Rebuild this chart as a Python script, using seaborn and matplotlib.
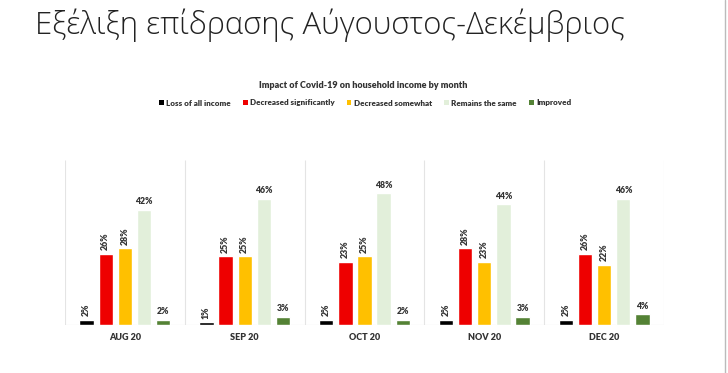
import pandas as pd
import matplotlib.pyplot as plt
import seaborn as sns
from matplotlib.patches import Patch
from matplotlib.lines import Line2D

# data
months = ['AUG 20', 'SEP 20', 'OCT 20', 'NOV 20', 'DEC 20']
categories = ['Loss of all income', 'Decreased significantly', 'Decreased somewhat',
              'Remains the same', 'Improved']
loss_all = [2, 1, 2, 2, 2]
decreased_sig = [26, 25, 23, 28, 26]
decreased_some = [28, 25, 25, 23, 22]
remains_same = [42, 46, 48, 44, 46]
improved = [2, 3, 2, 3, 4]
colors = ['#000000', '#EE0000', '#FFC000', '#E2EFDA', '#548235']

series = [loss_all, decreased_sig, decreased_some, remains_same, improved]
rows = []
for cat, vals in zip(categories, series):
    for m, v in zip(months, vals):
        rows.append({'month': m, 'category': cat, 'value': v})
df = pd.DataFrame(rows)

sns.set_style('white')
plt.rcParams['font.family'] = ['Lato', 'DejaVu Sans']

fig = plt.figure(figsize=(7.28, 3.73), dpi=100)
ax = fig.add_axes([65 / 728, 48 / 373, 599 / 728, 165 / 373])

sns.barplot(data=df, x='month', y='value', hue='category', hue_order=categories,
            order=months, palette=colors, width=0.8, gap=0.25, legend=False,
            saturation=1, ax=ax)

ax.set_ylim(0, 60)
ax.set_xlim(-0.5, 4.5)
ax.set_xlabel('')
ax.set_ylabel('')
ax.set_yticks([])
for s in ax.spines.values():
    s.set_visible(False)
ax.tick_params(axis='x', length=0, pad=6)
for t in ax.get_xticklabels():
    t.set_fontsize(6.5)
    t.set_fontweight('heavy')
    t.set_color('#333333')

# group separators and baseline
ax.vlines([i - 0.5 for i in range(len(months) + 1)], 0, 60, color='#E4E4E4', lw=0.8, zorder=0)
ax.axhline(0, color='#D9D9D9', lw=0.8, zorder=0)

# value labels
for k, cont in enumerate(ax.containers):
    for bar in cont:
        h = bar.get_height()
        xc = bar.get_x() + bar.get_width() / 2
        if k < 3:
            ax.text(xc, h + 1.2, f'{h:.0f}%', rotation=90, ha='center', va='bottom',
                    fontsize=6.3, fontweight='heavy', color='#333333')
        else:
            ax.text(xc, h + 1.2, f'{h:.0f}%', ha='center', va='bottom',
                    fontsize=6.3, fontweight='heavy', color='#333333')

# titles
fig.text(35 / 728, 1 - 25 / 373, 'Εξέλιξη επίδρασης Αύγουστος-Δεκέμβριος',
         family=['Open Sans', 'Noto Sans', 'DejaVu Sans'], fontweight='light',
         fontsize=22.4, color='#222222', va='center', ha='left')
fig.text(363 / 728, 1 - 85 / 373, 'Impact of Covid-19 on household income by month',
         fontsize=6.5, fontweight='heavy', color='#333333', ha='center', va='center')

handles = [Patch(facecolor=c, edgecolor='none') for c in colors]
fig.legend(handles, categories, loc='center', bbox_to_anchor=(365 / 728, 1 - 103 / 373),
           ncol=5, frameon=False, handlelength=0.6, handleheight=0.6, handletextpad=0.3,
           columnspacing=1.5, prop={'size': 5.8, 'weight': 'heavy'}, labelcolor='#333333')

# slide edge
fig.add_artist(Line2D([725 / 728, 725 / 728], [0, 1], color='#BBBBBB', lw=1))

fig.savefig('out.png', dpi=100)
